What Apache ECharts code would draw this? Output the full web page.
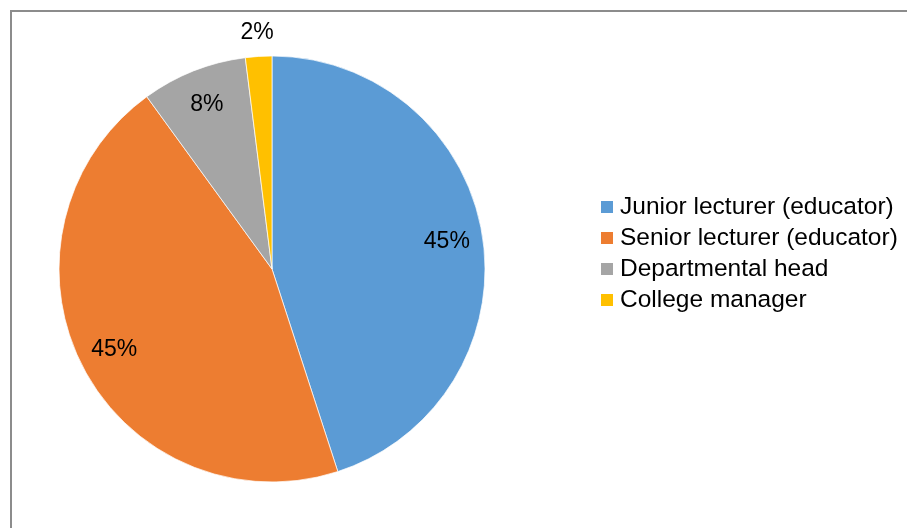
<!DOCTYPE html>
<html>
<head>
<meta charset="utf-8">
<script src="https://cdn.jsdelivr.net/npm/echarts@6/dist/echarts.min.js"></script>
<style>
  html, body { margin: 0; padding: 0; background: #fff; }
  #chart { width: 907px; height: 528px; }
</style>
</head>
<body>
<div id="chart"></div>
<script>
// Staff roles and their share of respondents (%)
const categories = ['Junior lecturer (educator)', 'Senior lecturer (educator)', 'Departmental head', 'College manager'];
const shares = [45, 45, 8, 2];
const colors = ['#5B9BD5', '#ED7D31', '#A5A5A5', '#FFC000'];

const FONT = 'Liberation Sans';
const center = [272, 269];
const R = 213;

const pieData = categories.map((name, i) => ({ name, value: shares[i], itemStyle: { color: colors[i] } }));

// Label carriers: transparent rings sharing the same angles, so each
// percentage sits at the radius where it is printed.
function labelRing(radius, showIdx) {
  return {
    type: 'pie',
    center: center,
    radius: radius,
    startAngle: 90,
    clockwise: true,
    silent: true,
    avoidLabelOverlap: false,
    emphasis: { disabled: true },
    itemStyle: { color: 'transparent', borderWidth: 0 },
    labelLine: { show: false },
    data: categories.map((name, i) => ({
      name,
      value: shares[i],
      label: {
        show: showIdx.includes(i),
        position: 'inside',
        formatter: p => p.value + '%',
        color: '#000',
        fontFamily: FONT,
        fontSize: 23
      }
    }))
  };
}

const chart = echarts.init(document.getElementById('chart'), null, { renderer: 'canvas' });
chart.setOption({
  animation: false,
  backgroundColor: '#fff',
  graphic: [{
    type: 'rect',
    shape: { x: 11, y: 11, width: 1000, height: 1000 },
    style: { fill: 'none', stroke: '#8c8c8c', lineWidth: 2 },
    silent: true
  }],
  legend: {
    orient: 'vertical',
    left: 594,
    top: 189,
    icon: 'rect',
    itemWidth: 14,
    itemHeight: 14,
    itemGap: 5,
    selectedMode: false,
    data: categories,
    textStyle: { fontFamily: FONT, fontSize: 24.5, color: '#000', lineHeight: 26, padding: [0, 0, 0, 1] }
  },
  series: [
    {
      type: 'pie',
      center: center,
      radius: R,
      startAngle: 90,
      clockwise: true,
      silent: true,
      emphasis: { disabled: true },
      itemStyle: { borderColor: '#fff', borderWidth: 0.7 },
      label: { show: false },
      labelLine: { show: false },
      data: pieData
    },
    labelRing([162, 186], [0, 1, 2]),
    labelRing([223, 245], [3])
  ]
});
</script>
</body>
</html>
